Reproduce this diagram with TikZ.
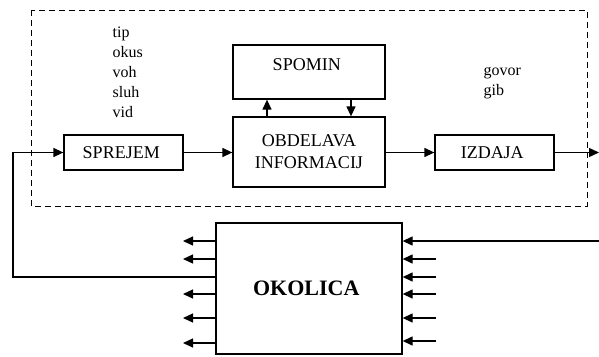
\documentclass[tikz,border=0pt]{standalone}
\usepackage{fontspec}
\setmainfont{Liberation Serif}
\usetikzlibrary{arrows.meta}

\begin{document}
\begin{tikzpicture}[x=1pt, y={(0pt,-1pt)}, line width=1.3pt, box/.style = {draw, align=center, inner sep=0pt, font=\fontsize{18}{22}\selectfont}, lbl/.style = {align=left, inner sep=0pt, anchor=west, font=\fontsize{16}{20}\selectfont}]
\useasboundingbox (0,0) rectangle (599,356);
\draw[dashed, line width=1pt, dash pattern=on 6pt off 4pt] (31,10) rectangle (587,206);

\node[box, minimum width=119pt, minimum height=35pt] (sprejem) at (123.5, 152.5) { SPREJEM };
\node[box, minimum width=152pt, minimum height=54pt, text depth=14pt] (spomin) at (309, 72) { SPOMIN };
\node[box, minimum width=152pt, minimum height=70pt] (obdelava) at (309, 152) { OBDELAVA\\INFORMACIJ };
\node[box, minimum width=119pt, minimum height=35pt] (izdaja) at (494.5, 152.5) { IZDAJA };
\node[box, minimum width=186pt, minimum height=131pt, font=\fontsize{22}{26}\selectfont\bfseries] (okolica) at (309, 288.5) { OKOLICA };

\node[lbl] (vhodi) at (112, 72) { tip\\okus\\voh\\sluh\\vid };
\node[lbl] (izhodi) at (483, 83) { govor\\gib };

\coordinate (out) at (599, 152.5);
\coordinate (fb) at (13, 277);
\coordinate (in) at (599, 241);

\begin{scope}[-{Triangle[length=10pt, width=9pt]}]
\path [draw] (sprejem) -- (obdelava.west |- sprejem);
\path [draw] (obdelava.east |- izdaja) -- (izdaja);
\path [draw] (izdaja) -- (out);
\path [draw] ([xshift=-42pt]obdelava.north) -- ([xshift=-42pt]spomin.south);
\path [draw] ([xshift=42pt]spomin.south) -- ([xshift=42pt]obdelava.north);
\path [draw] (okolica.west |- fb) -- (fb) |- (sprejem.west);
\path [draw] (in) -- (okolica.east |- in);
\foreach \y in {241,259,294,318,343} {
  \coordinate (l\y) at (183, \y);
  \path [draw] (okolica.west |- l\y) -- (l\y);
}
\foreach \y in {259,277,294,318,341} {
  \coordinate (r\y) at (436, \y);
  \path [draw] (r\y) -- (okolica.east |- r\y);
}
\end{scope}
\end{tikzpicture}
\end{document}
